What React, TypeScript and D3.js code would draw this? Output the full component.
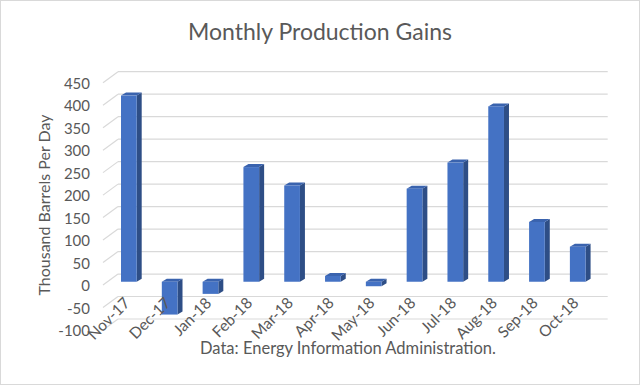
import React from "react";
import * as d3 from "d3";

const categories = ["Nov-17", "Dec-17", "Jan-18", "Feb-18", "Mar-18", "Apr-18", "May-18", "Jun-18", "Jul-18", "Aug-18", "Sep-18", "Oct-18"];
const values = [414, -73, -27, 255, 214, 13, -10, 207, 265, 390, 133, 78];
const yTicks = [-100, -50, 0, 50, 100, 150, 200, 250, 300, 350, 400, 450];
const title = "Monthly Production Gains";
const yTitle = "Thousand Barrels Per Day";
const source = "Data: Energy Information Administration.";

const W = 640, H = 385;
const FONT = "Lato, 'Open Sans', sans-serif";
const TXT = "#595959";

export default function App() {
  const yB = d3.scaleLinear().domain([-100, 450]).range([319, 71.7]);
  const xB = d3.scaleBand<string>().domain(categories).range([118, 607.7]);
  const wallDx = -15, wallDy = 11;
  const frontDy = 7.7;
  const depthDx = 5, depthDy = -3;
  const barW = 15.7;
  const barOff = 3;

  return (
    <svg width={W} height={H} style={{ position: "absolute", left: 0, top: 0, background: "#fff" }} fontFamily={FONT}>
      <rect x={0.5} y={0.5} width={W - 1} height={H - 1} fill="#fff" stroke="#d9d9d9" />
      <text x={320} y={40} textAnchor="middle" fontSize={23} fill={TXT}>{title}</text>
      {yTicks.map((t) => {
        const y = yB(t);
        return (
          <g key={t}>
            <line x1={118} x2={607.7} y1={y} y2={y} stroke="#d9d9d9" strokeWidth={1.2} />
            <line x1={118} x2={118 + wallDx} y1={y} y2={y + wallDy} stroke="#d9d9d9" strokeWidth={1.2} />
            <text x={90} y={y + wallDy} textAnchor="end" dominantBaseline="central" fontSize={15} fill={TXT}>{t}</text>
          </g>
        );
      })}
      {categories.map((c, i) => {
        const v = values[i];
        const x0 = (xB(c) as number) + barOff;
        const yTop = yB(Math.max(v, 0)) + frontDy;
        const yBot = yB(Math.min(v, 0)) + frontDy;
        const top = [[x0, yTop], [x0 + barW, yTop], [x0 + barW + depthDx, yTop + depthDy], [x0 + depthDx, yTop + depthDy]];
        const side = [[x0 + barW, yTop], [x0 + barW + depthDx, yTop + depthDy], [x0 + barW + depthDx, yBot + depthDy], [x0 + barW, yBot]];
        return (
          <g key={c}>
            <polygon points={side.map((p) => p.join(",")).join(" ")} fill="#2E4E86" />
            <polygon points={top.map((p) => p.join(",")).join(" ")} fill="#3A63AE" />
            <rect x={x0} y={yTop} width={barW} height={yBot - yTop} fill="#4472C4" />
          </g>
        );
      })}
      {categories.map((c) => {
        const x = (xB(c) as number) + barOff + barW / 2 + 2;
        const y = 304;
        return (
          <text key={c} x={x} y={y} textAnchor="end" fontSize={15.5} fill={TXT} transform={`rotate(-45, ${x}, ${y})`}>{c}</text>
        );
      })}
      <text transform={`translate(50, 205) rotate(-90)`} textAnchor="middle" fontSize={16} fill={TXT}>{yTitle}</text>
      <text x={348} y={354} textAnchor="middle" fontSize={16.5} fill={TXT}>{source}</text>
    </svg>
  );
}
